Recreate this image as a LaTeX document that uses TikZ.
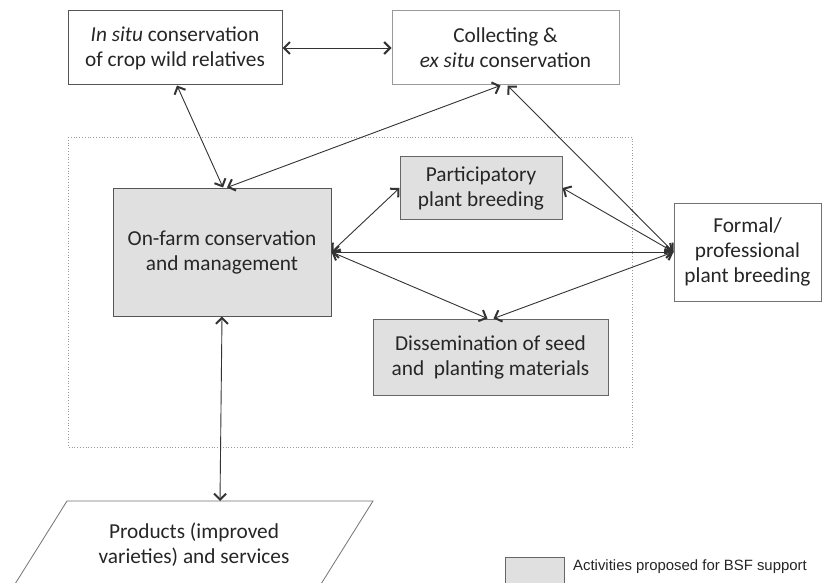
\documentclass[tikz,border=0pt]{standalone}
\usepackage{fontspec}
\setmainfont{Carlito}
\newfontfamily\legendfont{Liberation Sans}
\usetikzlibrary{arrows.meta,calc}
\definecolor{boxgray}{HTML}{E0E0E0}
\definecolor{edgegray}{HTML}{555555}
\definecolor{lightedge}{HTML}{999999}
\definecolor{txt}{HTML}{262626}
\begin{document}
\begin{tikzpicture}[x=1pt,y=-1pt,
  box/.style={draw=edgegray, line width=1pt, inner sep=0pt, align=center,
    text=txt, font=\fontsize{21.3}{25}\selectfont},
  activity/.style={box, fill=boxgray},
  conn/.style={draw=black!80, line width=0.9pt, {Straight Barb[length=6pt,width=12pt,line width=2pt]}-{Straight Barb[length=6pt,width=12pt,line width=2pt]}},
  frame/.style={draw=lightedge, dotted, line width=0.8pt}]
\useasboundingbox (0,0) rectangle (822,583);
\clip (0,0) rectangle (822,583);
\fill[white] (0,0) rectangle (822,583);

% dotted frame
\draw[frame] (68,137) rectangle (632,447);

% nodes
\node[box, minimum width=214pt, minimum height=74pt] (insitu) at (175,48)
  {\textit{In situ} conservation\\of crop wild relatives};
\node[box, draw=lightedge, minimum width=227pt, minimum height=74pt] (collect) at (505.5,48)
  {Collecting \&\\\textit{ex situ} conservation};
\node[activity, minimum width=218pt, minimum height=128pt] (onfarm) at (222,252)
  {On-farm conservation\\and management};
\node[activity, draw=black!60, minimum width=162pt, minimum height=62pt] (ppb) at (481,188)
  {Participatory\\plant breeding};
\node[activity, draw=black!60, minimum width=235pt, minimum height=76pt] (dissem) at (490.5,357)
  {Dissemination of seed\\and\ \ planting materials};
\node[box, draw=black!55, minimum width=147pt, minimum height=98pt] (formal) at (747.5,252)
  {Formal/\\professional\\plant breeding};

% products parallelogram (cut by the page bottom)
\coordinate (prodtop) at (220,501);
\draw[draw=black!55, line width=0.8pt] (5,600) -- (67,501) -- (373,501) -- (311,600);
\node[box, draw=none] (products) at (194,545) {Products (improved\\varieties) and services};

% legend
\draw[draw=black!60, line width=0.8pt, fill=boxgray] (505,557) rectangle (564,600);
\node[anchor=west, inner sep=0pt, text=txt, font=\legendfont\fontsize{14.9}{17}\selectfont] (legend) at (573,567)
  {Activities proposed for BSF support};

% connectors
\draw[conn] (insitu.east) -- (collect.west);
\draw[conn] ($(insitu.south)+(2,0)$) -- ($(onfarm.north)+(1,0)$);
\draw[conn] ($(collect.south)+(-5,0)$) -- ($(onfarm.north)+(5,0)$);
\draw[conn] ($(collect.south)+(2,0)$) -- (formal.west);
\draw[conn] (onfarm.east) -- (ppb.west);
\draw[conn] (onfarm.east) -- (formal.west);
\draw[conn] (onfarm.east) -- ($(dissem.north)+(-3,0)$);
\draw[conn] (ppb.east) -- (formal.west);
\draw[conn] ($(dissem.north)+(3,0)$) -- (formal.west);
\draw[conn] (onfarm.south) -- (prodtop);
\end{tikzpicture}
\end{document}
